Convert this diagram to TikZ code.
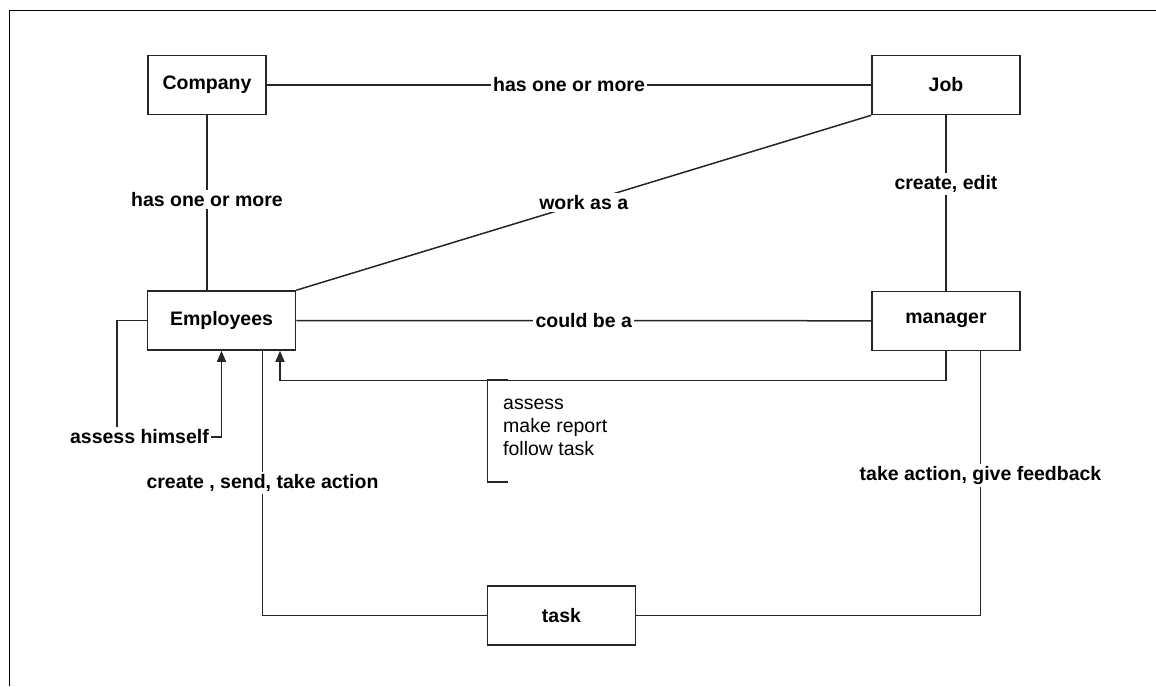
\documentclass[tikz,border=0pt]{standalone}
\usepackage{fontspec}
\setmainfont{Liberation Sans}
\usetikzlibrary{arrows.meta}
\tikzset{
  entity/.style={draw=black!85, line width=1.6pt, fill=white, minimum width=148pt, minimum height=59pt,
    inner sep=0pt, font=\fontsize{19.5}{23.5}\selectfont\bfseries},
  conn/.style={draw=black!85, line width=1.5pt},
  tri/.style={-{Triangle[width=9pt,length=11pt]}},
  lbl/.style={fill=white, inner sep=2.5pt, font=\fontsize{19.5}{23.5}\selectfont\bfseries},
  note/.style={inner sep=0pt, align=left, font=\fontsize{19.5}{23}\selectfont}
}
\begin{document}
\begin{tikzpicture}[x=1pt,y=-1pt]
\useasboundingbox (0,0) rectangle (1156,686);
% frame (only top and left edges visible)
\draw[line width=1.2pt] (9.5,686) -- (9.5,10.5) -- (1156,10.5);

% entities
\node[entity, minimum width=118pt] (comp) at (207,85) {Company};
\node[entity] (job)  at (946,85) {Job};
\node[entity] (emp)  at (221.5,320.5) {Employees};
\node[entity] (mgr)  at (946,320.8) {manager};
\node[entity] (task) at (561.5,615.3) {task};

% connectors
\draw[conn] (comp) -- (job) node[lbl,midway] {has one or more};
\draw[conn] (comp) -- (emp.north -| comp.south) node[lbl,pos=0.48] {has one or more};
\draw[conn] (job.south west) -- (emp.north east) node[lbl,midway] {work as a};
\draw[conn] (job) -- (mgr) node[lbl,pos=0.39] {create, edit};
\draw[conn] (emp) -- (mgr) node[lbl,midway] {could be a};

% self assessment loop
\coordinate (ahc) at (139.5,437);
\draw[conn,tri] (emp.west) -| ([xshift=-22.5pt]ahc) -- (ahc -| emp.south) -- (emp.south);
\node[lbl] (ah) at (ahc) {assess himself};

% manager assesses employees
\draw[conn,tri] (mgr.south) -- ++(0,29.5) -| ([xshift=58.5pt]emp.south);

% annotation bracket
\coordinate (nt) at (508,380);
\coordinate (nb) at (508,482);
\draw[line width=1.2pt, draw=black!85] (nt) -- (487.5,380) -- (487.5,482) -- (nb);
\node[note, anchor=west] (notetext) at (503,427) {assess\\make report\\follow task};

% task connectors
\draw[conn] ([xshift=41pt]emp.south) |- (task.west) node[lbl,pos=0.25] {create , send, take action};
\draw[conn] ([xshift=34.5pt]mgr.south) |- (task.east) node[lbl,pos=0.236] {take action, give feedback};
\end{tikzpicture}
\end{document}
